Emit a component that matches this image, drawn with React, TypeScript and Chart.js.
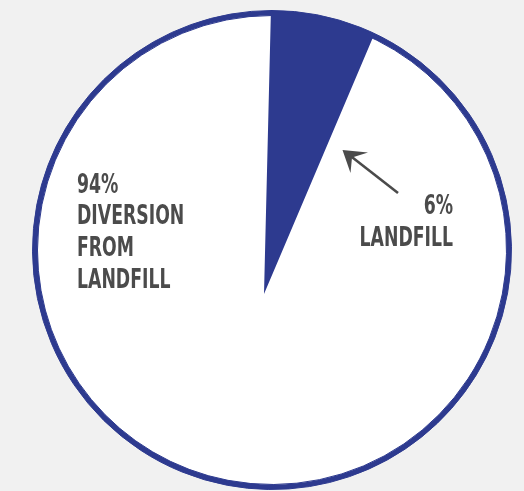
import React, { useEffect, useRef } from "react";
import { Chart, registerables } from "chart.js";

Chart.register(...registerables);

// ---- data ----
const CATEGORIES = ["Landfill", "Diversion from landfill"];
const SHARES = [6, 94];
const LEFT_LABEL = ["94%", "DIVERSION", "FROM", "LANDFILL"];
const RIGHT_LABEL = ["6%", "LANDFILL"];

const BLUE = "#2d3a8f";
const WHITE = "#ffffff";
const TEXT = "#4b4b4b";
const BG = "#f1f1f1";

export default function App() {
  const discRef = useRef<HTMLCanvasElement | null>(null);
  const wedgeRef = useRef<HTMLCanvasElement | null>(null);

  useEffect(() => {
    if (!discRef.current || !wedgeRef.current) return;
    const disc = new Chart(discRef.current, {
      type: "pie",
      data: {
        labels: CATEGORIES,
        datasets: [
          {
            data: SHARES,
            backgroundColor: [BLUE, BLUE],
            borderColor: BLUE,
            borderWidth: 1,
            weight: 1,
          } as any,
          {
            data: SHARES,
            backgroundColor: [WHITE, WHITE],
            borderColor: WHITE,
            borderWidth: 1,
            weight: 47,
          } as any,
        ],
      },
      options: {
        responsive: false,
        animation: false,
        events: [],
        layout: { padding: 0 },
        plugins: { legend: { display: false }, tooltip: { enabled: false } },
      },
    });
    const wedge = new Chart(wedgeRef.current, {
      type: "pie",
      data: {
        labels: CATEGORIES,
        datasets: [
          {
            data: SHARES,
            backgroundColor: [BLUE, "rgba(0,0,0,0)"],
            borderWidth: 0,
          },
        ],
      },
      options: {
        responsive: false,
        animation: false,
        events: [],
        rotation: 1.4,
        layout: { padding: 0 },
        plugins: { legend: { display: false }, tooltip: { enabled: false } },
      },
    });
    return () => {
      disc.destroy();
      wedge.destroy();
    };
  }, []);

  const font: React.CSSProperties = {
    position: "absolute",
    fontFamily: '"DejaVu Sans Condensed", "DejaVu Sans", sans-serif',
    fontWeight: 700,
    fontSize: 26.5,
    lineHeight: "31.7px",
    color: TEXT,
    whiteSpace: "nowrap",
  };

  return (
    <div
      style={{
        position: "absolute",
        left: 0,
        top: 0,
        width: 524,
        height: 491,
        background: BG,
        overflow: "hidden",
      }}
    >
      <canvas
        ref={discRef}
        width={480}
        height={480}
        style={{ position: "absolute", left: 32, top: 10, width: 480, height: 480 }}
      />
      <canvas
        ref={wedgeRef}
        width={564}
        height={564}
        style={{ position: "absolute", left: -18, top: 12, width: 564, height: 564 }}
      />
      <svg
        width={524}
        height={491}
        style={{ position: "absolute", left: 0, top: 0 }}
      >
        <line x1={398} y1={193} x2={348} y2={154} stroke={TEXT} strokeWidth={2.6} />
        <polygon points="342.5,150 368,152.5 352,157.5 350.5,173" fill={TEXT} />
      </svg>
      <div style={{ ...font, left: 77, top: 167.6, transform: "scaleX(0.725)", transformOrigin: "left top" }}>
        {LEFT_LABEL.map((t, i) => (
          <div key={i}>{t}</div>
        ))}
      </div>
      <div
        style={{
          ...font,
          left: 253,
          width: 200,
          top: 189.3,
          textAlign: "right",
          transform: "scaleX(0.725)",
          transformOrigin: "right top",
        }}
      >
        {RIGHT_LABEL.map((t, i) => (
          <div key={i}>{t}</div>
        ))}
      </div>
    </div>
  );
}
